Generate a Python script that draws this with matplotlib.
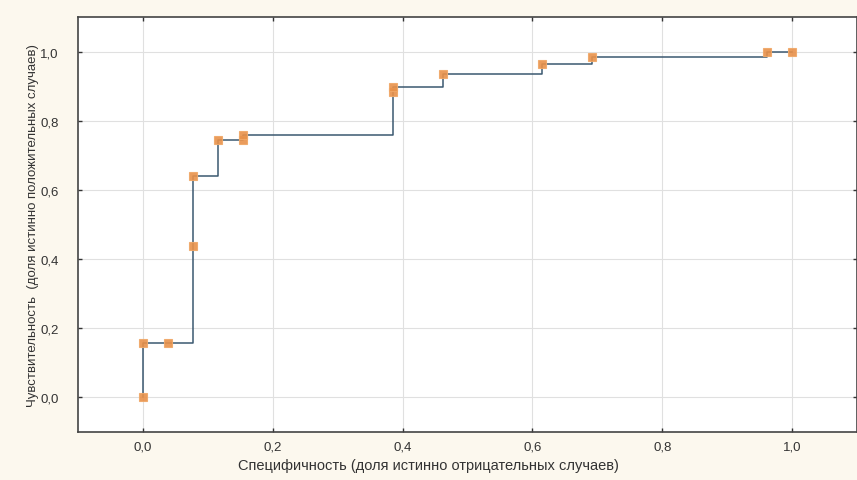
import matplotlib.pyplot as plt
from matplotlib.ticker import FuncFormatter

# ROC points
spec = [0.0, 0.0, 0.038, 0.077, 0.077, 0.115, 0.154, 0.154, 0.385, 0.385,
        0.462, 0.615, 0.692, 0.962, 1.0]
sens = [0.0, 0.156, 0.156, 0.438, 0.641, 0.744, 0.744, 0.758, 0.883, 0.898,
        0.935, 0.965, 0.983, 1.0, 1.0]
ticks = [0.0, 0.2, 0.4, 0.6, 0.8, 1.0]

plt.rcParams['font.family'] = ['Liberation Sans', 'DejaVu Sans']

fig = plt.figure(figsize=(8.57, 4.81), dpi=100, facecolor='#fcf8ee')
ax = fig.add_axes([78 / 857, 1 - 433 / 481, 779 / 857, 415 / 481])
ax.set_facecolor('white')

ax.plot(spec, sens, drawstyle='steps-post', color='#3b5870', lw=1.1, zorder=3)
ax.plot(spec, sens, ls='none', marker='s', ms=5.5, color='#e8914a',
        mec='#f0a868', mew=0.8, alpha=0.9, zorder=4)

ax.set_xlim(-0.1, 1.1)
ax.set_ylim(-0.1, 1.1)
ax.set_xticks(ticks)
ax.set_yticks(ticks)
fmt = FuncFormatter(lambda v, p: f"{v:.1f}".replace('.', ','))
ax.xaxis.set_major_formatter(fmt)
ax.yaxis.set_major_formatter(fmt)
ax.grid(True, color='#e0e0e0', lw=0.8)
ax.set_axisbelow(True)
ax.tick_params(direction='in', length=3, width=1, top=True, right=True,
               labelsize=9.5, colors='#333333')
ax.tick_params(axis='y', pad=14)
ax.tick_params(axis='x', pad=6)
for s in ax.spines.values():
    s.set_color('#444444')
    s.set_linewidth(1.2)

# x label is centred on the figure, not on the axes
fig.text(0.5, 1 - 466 / 481, "Специфичность (доля истинно отрицательных случаев)",
         fontsize=10.5, color='#333333', ha='center', va='center')
ax.set_ylabel("Чувствительность  (доля истинно положительных случаев)",
              fontsize=9.5, color='#333333', labelpad=1)

fig.savefig('out.png', dpi=100, facecolor=fig.get_facecolor())
